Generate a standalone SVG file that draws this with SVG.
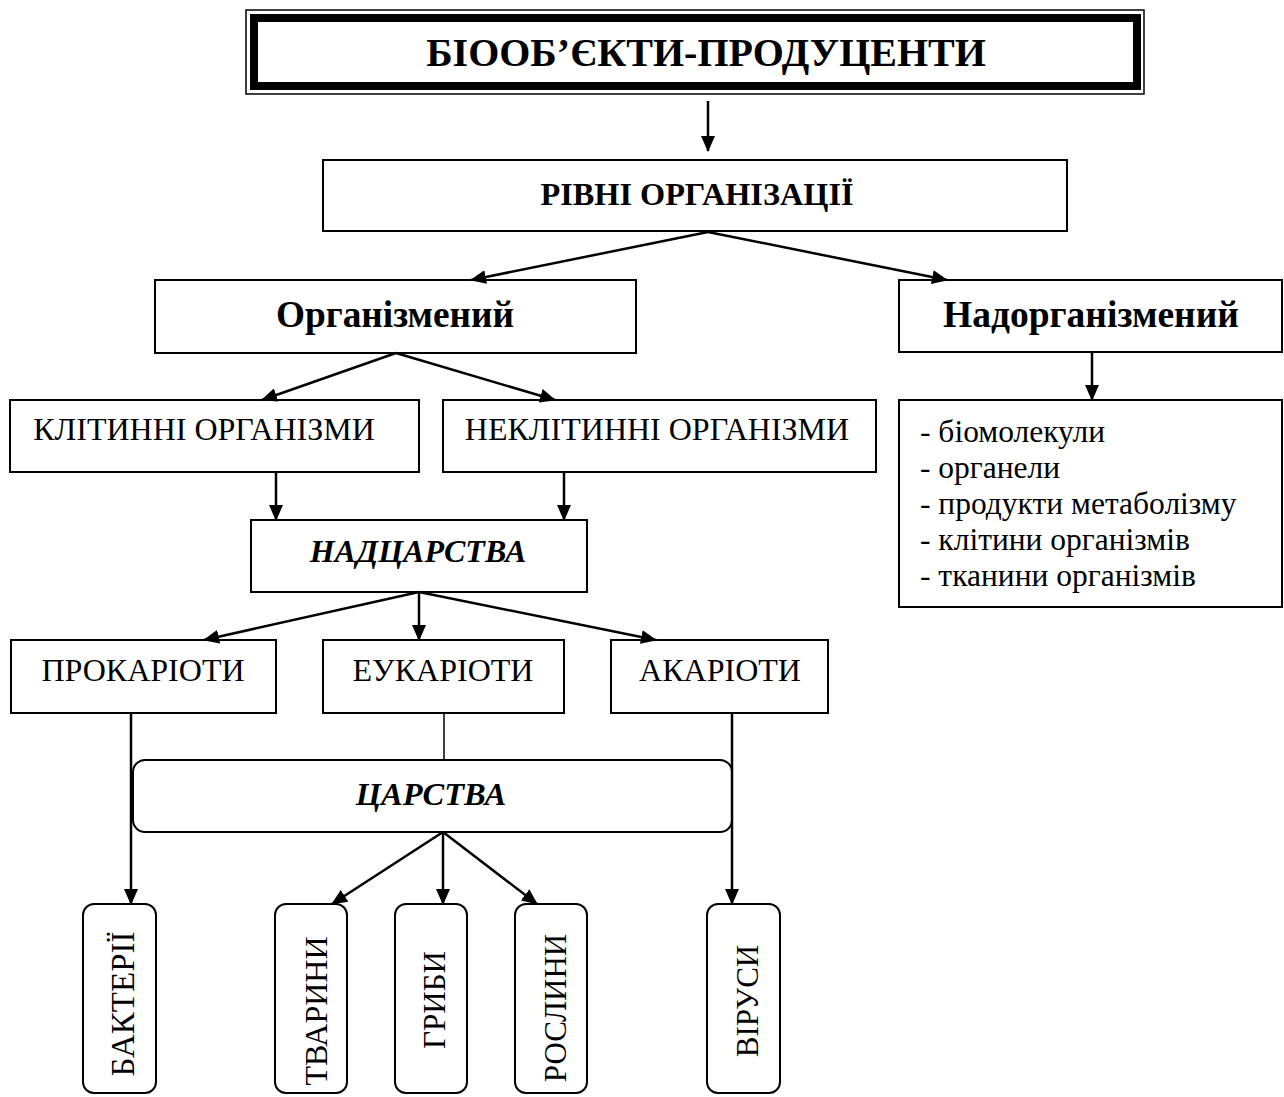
<svg xmlns="http://www.w3.org/2000/svg" width="1284" height="1097" viewBox="0 0 1284 1097">
<style>
  .box { fill: #fff; stroke: #000; stroke-width: 2; }
  .t { font-family: "Liberation Serif", "Times New Roman", serif; fill: #000; }
  .r31 { font-size: 32px; }
  .v { font-size: 31px; }
  .b { font-weight: bold; }
  .bi { font-weight: bold; font-style: italic; }
  .c { text-anchor: middle; }
  .con { fill: none; stroke: #000; stroke-width: 2.5; }
  .thin { fill: none; stroke: #000; stroke-width: 1.5; }
</style>
<defs>
  <marker id="ah" markerUnits="userSpaceOnUse" markerWidth="16" markerHeight="14" refX="15" refY="7" orient="auto">
    <path d="M0,0 L16,7 L0,14 Z" fill="#000"/>
  </marker>
</defs>
<rect width="1284" height="1097" fill="#fff"/>

<g id="title">
  <rect x="246" y="10" width="898" height="84" fill="#fff" stroke="#000" stroke-width="1.5"/>
  <rect x="254" y="18" width="883" height="68" fill="none" stroke="#000" stroke-width="8"/>
  <text class="t b c" x="706" y="66" font-size="40">БІООБ’ЄКТИ-ПРОДУЦЕНТИ</text>
</g>

<g id="levels">
  <rect class="box" x="323" y="160" width="744" height="71"/>
  <text class="t b c" x="697" y="205" font-size="32.3">РІВНІ ОРГАНІЗАЦІЇ</text>
</g>

<g id="organismal">
  <rect class="box" x="155" y="280" width="481" height="73"/>
  <text class="t b c" x="395" y="327" font-size="37.3">Організмений</text>
</g>

<g id="supraorganismal">
  <rect class="box" x="899" y="280" width="383" height="72"/>
  <text class="t b c" x="1091" y="327" font-size="37.5">Надорганізмений</text>
</g>

<g id="list">
  <rect class="box" x="899" y="400" width="383" height="207"/>
  <text class="t" x="920" font-size="31.5">
    <tspan x="920" y="442">- біомолекули</tspan>
    <tspan x="920" y="478">- органели</tspan>
    <tspan x="920" y="514">- продукти метаболізму</tspan>
    <tspan x="920" y="550">- клітини організмів</tspan>
    <tspan x="920" y="586">- тканини організмів</tspan>
  </text>
</g>

<g id="cellular">
  <rect class="box" x="10" y="400" width="409" height="72"/>
  <text class="t r31 c" x="204" y="440">КЛІТИННІ ОРГАНІЗМИ</text>
</g>

<g id="noncellular">
  <rect class="box" x="443" y="400" width="433" height="72"/>
  <text class="t r31 c" x="657" y="440">НЕКЛІТИННІ ОРГАНІЗМИ</text>
</g>

<g id="superkingdoms">
  <rect class="box" x="251" y="520" width="336" height="72"/>
  <text class="t bi c" x="418" y="562" font-size="32">НАДЦАРСТВА</text>
</g>

<g id="prokaryotes">
  <rect class="box" x="11" y="640" width="265" height="73"/>
  <text class="t r31 c" x="143" y="681">ПРОКАРІОТИ</text>
</g>

<g id="eukaryotes">
  <rect class="box" x="323" y="640" width="241" height="73"/>
  <text class="t r31 c" x="443" y="681">ЕУКАРІОТИ</text>
</g>

<g id="akaryotes">
  <rect class="box" x="611" y="640" width="217" height="73"/>
  <text class="t r31 c" x="720" y="681">АКАРІОТИ</text>
</g>

<g id="kingdoms">
  <rect class="box" x="133" y="760" width="599" height="72" rx="12"/>
  <text class="t bi c" x="431" y="805" font-size="32.5">ЦАРСТВА</text>
</g>

<g id="bacteria">
  <rect class="box" x="83" y="904" width="73" height="189" rx="11"/>
  <text class="t c" font-size="33" transform="translate(134,1004) rotate(-90)">БАКТЕРІЇ</text>
</g>

<g id="animals">
  <rect class="box" x="275" y="904" width="72" height="189" rx="11"/>
  <text class="t c" font-size="32" transform="translate(327,1011) rotate(-90)">ТВАРИНИ</text>
</g>

<g id="fungi">
  <rect class="box" x="395" y="904" width="72" height="189" rx="11"/>
  <text class="t v c" transform="translate(445,1000) rotate(-90)">ГРИБИ</text>
</g>

<g id="plants">
  <rect class="box" x="515" y="904" width="72" height="189" rx="11"/>
  <text class="t v c" transform="translate(566,1008) rotate(-90)">РОСЛИНИ</text>
</g>

<g id="viruses">
  <rect class="box" x="707" y="904" width="73" height="189" rx="11"/>
  <text class="t v c" transform="translate(758,1001) rotate(-90)">ВІРУСИ</text>
</g>

<g id="connectors">
  <line class="con" x1="708" y1="101" x2="708" y2="151" marker-end="url(#ah)"/>
  <line class="con" x1="708" y1="232" x2="471" y2="280" marker-end="url(#ah)"/>
  <line class="con" x1="708" y1="232" x2="947" y2="280" marker-end="url(#ah)"/>
  <line class="con" x1="396" y1="353" x2="262" y2="400" marker-end="url(#ah)"/>
  <line class="con" x1="396" y1="353" x2="555" y2="400" marker-end="url(#ah)"/>
  <line class="con" x1="276" y1="472" x2="276" y2="520" marker-end="url(#ah)"/>
  <line class="con" x1="564" y1="472" x2="564" y2="520" marker-end="url(#ah)"/>
  <line class="con" x1="1092" y1="352" x2="1092" y2="400" marker-end="url(#ah)"/>
  <line class="con" x1="419" y1="592" x2="204" y2="640" marker-end="url(#ah)"/>
  <line class="con" x1="419" y1="592" x2="419" y2="640" marker-end="url(#ah)"/>
  <line class="con" x1="419" y1="592" x2="656" y2="640" marker-end="url(#ah)"/>
  <line class="con" x1="131" y1="713" x2="131" y2="904" marker-end="url(#ah)"/>
  <line class="con" x1="732" y1="713" x2="732" y2="904" marker-end="url(#ah)"/>
  <line class="thin" x1="444" y1="713" x2="444" y2="760"/>
  <line class="con" x1="443" y1="832" x2="332" y2="904" marker-end="url(#ah)"/>
  <line class="con" x1="443" y1="832" x2="443" y2="904" marker-end="url(#ah)"/>
  <line class="con" x1="443" y1="832" x2="537" y2="904" marker-end="url(#ah)"/>
</g>
</svg>
